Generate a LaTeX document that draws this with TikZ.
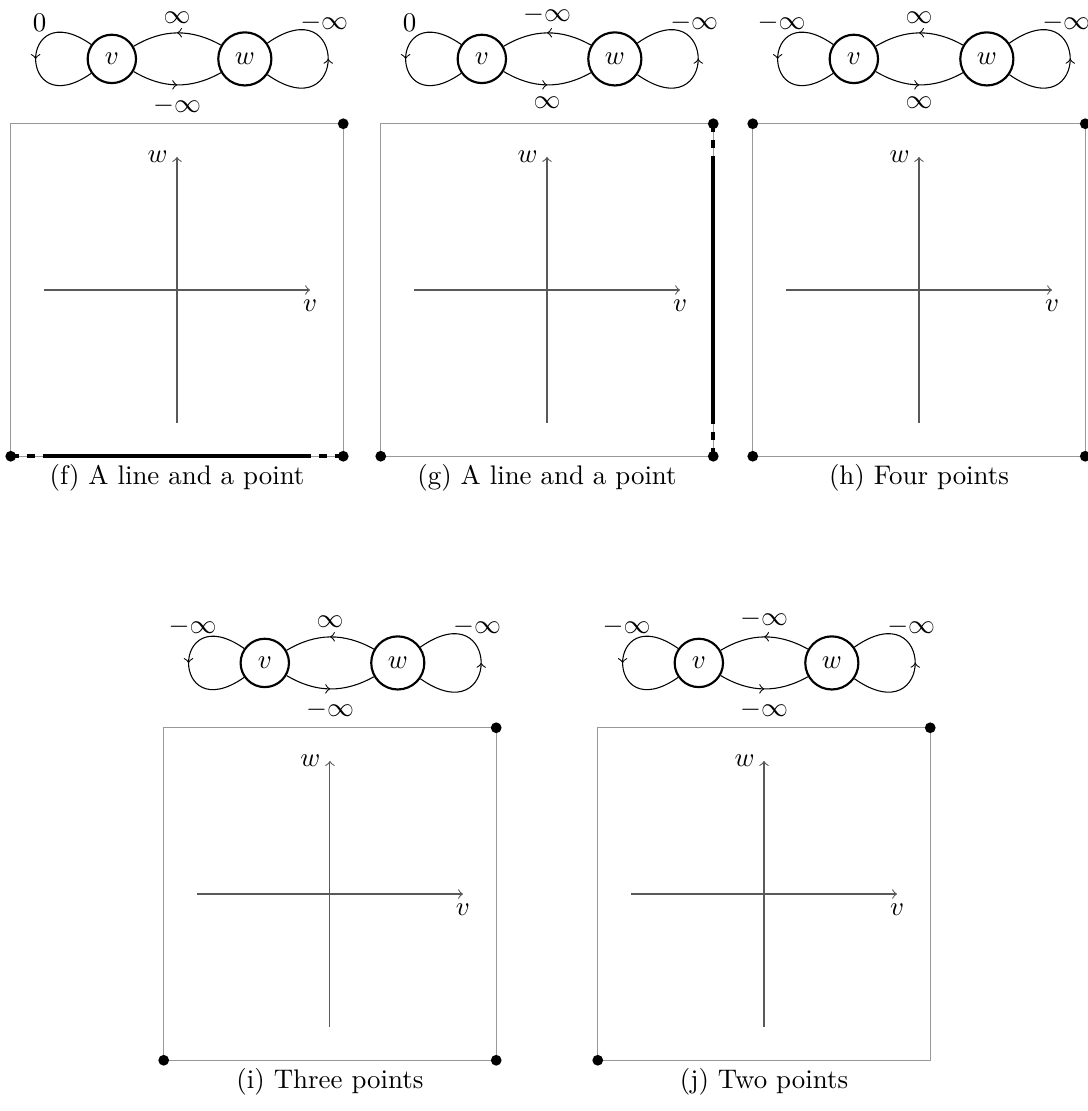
\documentclass[tikz,border=0pt]{standalone}
\usepackage{amsmath,amssymb}
\usepackage{tikz}
\usetikzlibrary{arrows,positioning,calc,decorations.markings}

% graph and axes of one panel: #1 panel name, #2 loop at v, #3 w->v,
% #4 loop at w, #5 v->w, #6 caption
\newcommand{\graphpanel}[6]{%
  \node[state] (#1v) at (-0.98,3.475) {$v$};
  \node[state] (#1w) at ( 1.02,3.475) {$w$};
  \draw[selfloop] (#1v) to[out=145,in=215] node[lblleft] {$#2$} (#1v);
  \draw[link] (#1w) to node[above] {$#3$} (#1v);
  \draw[selfloop] (#1w) to[out=-35,in=35] node[lblright] {$#4$} (#1w);
  \draw[link] (#1v) to node[below=1pt] {$#5$} (#1w);
  \draw[frame] (-2.5,-2.5) rectangle (2.5,2.5);
  \draw[axis] (-2,0) -- (2,0) node[axlbl,below] {$v$};
  \draw[axis] (0,-2) -- (0,2) node[axlbl,left] {$w$};
  \node (#1cap) at (0,-2.83) {#6};}

\begin{document}
\begin{tikzpicture}[
    x=0.8689cm,y=0.8689cm,
    state/.style    = {circle, draw, thick, inner sep=4pt},
    midarrow/.style = {postaction={decorate},
                       decoration={markings,
                         mark=at position 0.5 with {\arrow{>}}}},
    link/.style     = {midarrow, bend right=30},
    selfloop/.style = {midarrow, looseness=8, min distance=5mm},
    lblleft/.style  = {above=6.5pt, xshift=1.5pt},
    lblright/.style = {above=6.5pt, xshift=-1.5pt},
    frame/.style    = {black!40},
    axis/.style     = {->, black!65},
    axlbl/.style    = {text=black},
    bold/.style     = {line width=1.6pt},
  ]

  \useasboundingbox (-2.6617,-12.346) rectangle (13.699,4.3609);

  % ── (f) ─────────────────────────────────────────────────────────────────
  \begin{scope}[shift={(0,0)}]
    \graphpanel{f}{0}{\infty}{-\infty}{-\infty}{(f) A line and a point}
    \draw[bold] (-2,-2.5) -- (2,-2.5);
    \draw[bold,dashed] (-2.5,-2.5) -- (-2,-2.5);
    \draw[bold,dashed] (2.5,-2.5) -- (2,-2.5);
    \fill (2.5,2.5) circle (2pt) (-2.5,-2.5) circle (2pt) (2.5,-2.5) circle (2pt);
  \end{scope}

  % ── (g) ─────────────────────────────────────────────────────────────────
  \begin{scope}[shift={(5.564,0)}]
    \graphpanel{g}{0}{-\infty}{-\infty}{\infty}{(g) A line and a point}
    \draw[bold] (2.5,-2) -- (2.5,2);
    \draw[bold,dashed] (2.5,2.5) -- (2.5,2);
    \draw[bold,dashed] (2.5,-2.5) -- (2.5,-2);
    \fill (2.5,2.5) circle (2pt) (-2.5,-2.5) circle (2pt) (2.5,-2.5) circle (2pt);
  \end{scope}

  % ── (h) ─────────────────────────────────────────────────────────────────
  \begin{scope}[shift={(11.158,0)}]
    \graphpanel{h}{-\infty}{\infty}{-\infty}{\infty}{(h) Four points}
    \fill (-2.5,2.5) circle (2pt) (2.5,2.5) circle (2pt)
          (-2.5,-2.5) circle (2pt) (2.5,-2.5) circle (2pt);
  \end{scope}

  % ── (i) ─────────────────────────────────────────────────────────────────
  \begin{scope}[shift={(2.30,-9.083)}]
    \graphpanel{i}{-\infty}{\infty}{-\infty}{-\infty}{(i) Three points}
    \fill (2.5,2.5) circle (2pt) (-2.5,-2.5) circle (2pt) (2.5,-2.5) circle (2pt);
  \end{scope}

  % ── (j) ─────────────────────────────────────────────────────────────────
  \begin{scope}[shift={(8.827,-9.083)}]
    \graphpanel{j}{-\infty}{-\infty}{-\infty}{-\infty}{(j) Two points}
    \fill (2.5,2.5) circle (2pt) (-2.5,-2.5) circle (2pt);
  \end{scope}

\end{tikzpicture}
\end{document}
